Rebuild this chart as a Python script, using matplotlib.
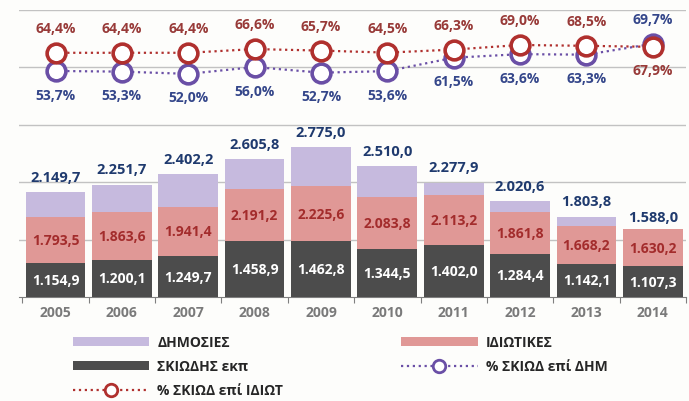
import matplotlib.pyplot as plt
import numpy as np

plt.rcParams['font.family'] = ['Open Sans', 'DejaVu Sans']
plt.rcParams['font.weight'] = 'bold'

# δεδομένα
years = ['2005', '2006', '2007', '2008', '2009', '2010', '2011', '2012', '2013', '2014']
dimosies = [2149.7, 2251.7, 2402.2, 2605.8, 2775.0, 2510.0, 2277.9, 2020.6, 1803.8, 1588.0]
idiotikes = [1793.5, 1863.6, 1941.4, 2191.2, 2225.6, 2083.8, 2113.2, 1861.8, 1668.2, 1630.2]
skiodis = [1154.9, 1200.1, 1249.7, 1458.9, 1462.8, 1344.5, 1402.0, 1284.4, 1142.1, 1107.3]
pct_dim = [53.7, 53.3, 52.0, 56.0, 52.7, 53.6, 61.5, 63.6, 63.3, 69.7]
pct_idiot = [64.4, 64.4, 64.4, 66.6, 65.7, 64.5, 66.3, 69.0, 68.5, 67.9]

c_dim = '#c6bade'
c_idi = '#e09896'
c_ski = '#4c4c4c'
c_line_red = '#b0302e'
c_line_pur = '#6a4fa6'


def fmt_num(v):
    s = f"{v:,.1f}"
    return s.replace(',', 'X').replace('.', ',').replace('X', '.')


def fmt_pct(v):
    return f"{v:.1f}".replace('.', ',') + '%'


fig = plt.figure(figsize=(6.89, 4.02), dpi=100)
fig.patch.set_facecolor('#fdfdfb')
ax = fig.add_axes([19/689, 104/402, 667/689, 287/402])
ax.set_facecolor('none')

x = np.arange(len(years))
w = 0.9
ymin, ymax = 678, 4697
ax.set_ylim(ymin, ymax)
ax.set_xlim(-0.55, len(years) - 0.5)
ax.tick_params(axis='y', left=False, labelleft=False)
ax.set_yticks([])

# οριζόντιες γραμμές πλέγματος
for gy in np.linspace(ymin, ymax, 6)[1:]:
    ax.axhline(gy, color='#c2c2c2', lw=1, zorder=1)

b1 = ax.bar(x, dimosies, w, color=c_dim, zorder=2)
b2 = ax.bar(x, idiotikes, w, color=c_idi, zorder=3)
b3 = ax.bar(x, skiodis, w, color=c_ski, zorder=4)

for i in range(len(years)):
    ax.annotate(fmt_num(dimosies[i]), (x[i], dimosies[i]), xytext=(0, 11),
                textcoords='offset points', ha='center', va='center',
                color='#1f3a6e', fontsize=10.5, zorder=6)
    ax.text(x[i], (idiotikes[i] + skiodis[i]) / 2, fmt_num(idiotikes[i]),
            ha='center', va='center', color='#a32c2c', fontsize=10, zorder=6)
    ax.text(x[i], (skiodis[i] + ymin) / 2, fmt_num(skiodis[i]),
            ha='center', va='center', color='white', fontsize=10, zorder=6)

ax.set_xticks(np.arange(-0.5, len(years), 1), minor=False)
ax.set_xticklabels([])
ax.set_xticks(x, minor=True)
ax.set_xticklabels(years, minor=True, color='#7a7a7a', fontsize=10)
ax.tick_params(axis='x', which='minor', length=0, pad=6)
ax.tick_params(axis='x', which='major', length=4, color='#7f7f7f')
for s in ['top', 'right', 'left']:
    ax.spines[s].set_visible(False)
ax.spines['bottom'].set_color('#7f7f7f')

# γραμμές ποσοστών
ax2 = ax.twinx()
ax2.set_ylim(-79.4, 89.6)
ax2.axis('off')
l_pur, = ax2.plot(x, pct_dim, ':', color=c_line_pur, lw=1.6, marker='o', ms=13.5,
                  mfc='white', mec=c_line_pur, mew=2.6, zorder=5)
l_red, = ax2.plot(x, pct_idiot, ':', color=c_line_red, lw=1.6, marker='o', ms=13.5,
                  mfc='white', mec=c_line_red, mew=2.6, zorder=5)

for i in range(len(years)):
    d_up = pct_dim[i] > pct_idiot[i]
    ax2.annotate(fmt_pct(pct_idiot[i]), (x[i], pct_idiot[i]),
                 xytext=(0, -17 if d_up else 18), textcoords='offset points',
                 ha='center', va='center', color='#983a38', fontsize=10)
    ax2.annotate(fmt_pct(pct_dim[i]), (x[i], pct_dim[i]),
                 xytext=(0, 18 if d_up else -17), textcoords='offset points',
                 ha='center', va='center', color='#34468a', fontsize=10)

handles = [b1, b3, l_red, b2, l_pur]
labels = ['ΔΗΜΟΣΙΕΣ', 'ΣΚΙΩΔΗΣ εκπ', '% ΣΚΙΩΔ επί ΙΔΙΩΤ', 'ΙΔΙΩΤΙΚΕΣ', '% ΣΚΙΩΔ επί ΔΗΜ']
leg = fig.legend(handles, labels, ncol=2, loc='upper left', bbox_to_anchor=(60/689, 1 - 324/402),
                 frameon=False, handlelength=5.5, handleheight=0.6,
                 handletextpad=0.6, columnspacing=8.5, labelspacing=0.72,
                 prop={'weight': 'bold', 'size': 10})
for t in leg.get_texts():
    t.set_color('#262626')
for h in leg.legend_handles:
    if hasattr(h, 'set_markersize'):
        h.set_markersize(9)
        h.set_markeredgewidth(2)

fig.savefig('out.png', dpi=100, facecolor=fig.get_facecolor())
